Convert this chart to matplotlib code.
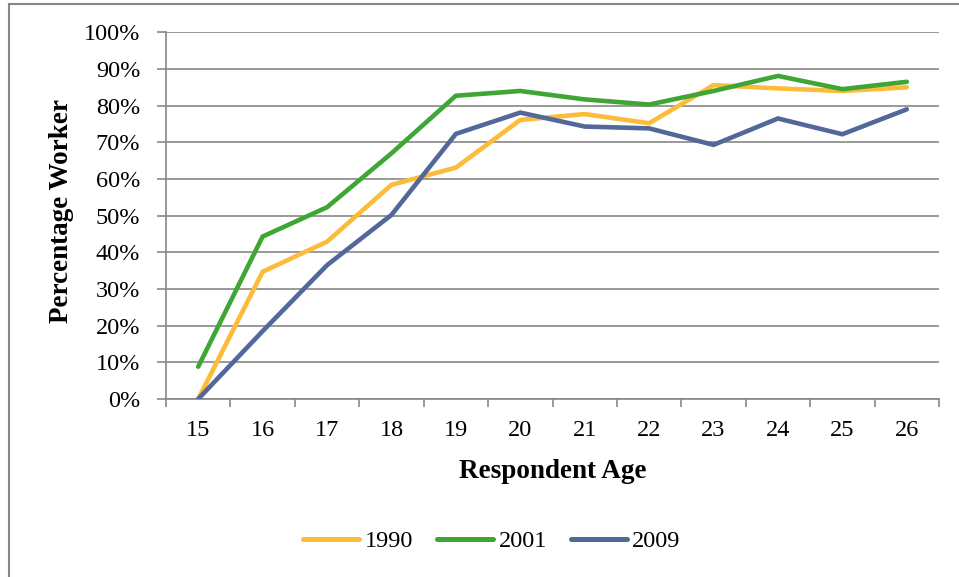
import matplotlib
matplotlib.use("Agg")
import matplotlib.pyplot as plt
from matplotlib.lines import Line2D
from matplotlib.ticker import FixedLocator, PercentFormatter

ages = ["15", "16", "17", "18", "19", "20", "21", "22", "23", "24", "25", "26"]
v1990 = [0.0, 34.7, 42.9, 58.4, 63.1, 76.1, 77.7, 75.2, 85.6, 84.7, 84.0, 85.0]
v2001 = [8.8, 44.3, 52.3, 67.0, 82.7, 84.0, 81.7, 80.3, 84.0, 88.1, 84.5, 86.5]
v2009 = [0.0, 18.5, 36.5, 50.2, 72.3, 78.1, 74.3, 73.8, 69.3, 76.5, 72.2, 79.0]
series_names = ["1990", "2001", "2009"]
y_ticks = [0, 10, 20, 30, 40, 50, 60, 70, 80, 90, 100]

colors = ["#FDBB3A", "#3FA535", "#52679A"]
grid_c = "#878787"
FONT = "Liberation Serif"
FS = 17.5
LFS = 19.5

plt.rcParams["font.family"] = [FONT, "DejaVu Serif"]

fig = plt.figure(figsize=(9.59, 5.77), dpi=100)
ax = fig.add_axes([166 / 959, 1 - 399 / 577, (939 - 166) / 959, (399 - 32.3) / 577])

x = list(range(len(ages)))
for vals, name, c in zip([v1990, v2001, v2009], series_names, colors):
    ax.plot(x, vals, color=c, lw=3.3, label=name, solid_capstyle="round",
            solid_joinstyle="miter", zorder=3)

ax.set_xlim(-0.5, len(ages) - 0.5)
ax.set_ylim(0, 100)
ax.yaxis.set_major_locator(FixedLocator(y_ticks))
ax.yaxis.set_major_formatter(PercentFormatter(decimals=0))
ax.grid(axis="y", color=grid_c, lw=1.2, zorder=1)
ax.set_axisbelow(True)

ax.set_xticks([i - 0.5 for i in range(len(ages) + 1)])
ax.set_xticklabels([])
ax.set_xticks(x, minor=True)
ax.set_xticklabels(ages, minor=True)
ax.tick_params(axis="x", which="major", direction="out", length=6, width=1.2, color=grid_c)
ax.tick_params(axis="x", which="minor", length=0, pad=15, labelsize=FS)
ax.tick_params(axis="y", direction="out", length=6.5, width=1.2, color=grid_c, pad=12, labelsize=FS)

for s in ["top", "right"]:
    ax.spines[s].set_visible(False)
for s in ["left", "bottom"]:
    ax.spines[s].set_color(grid_c)
    ax.spines[s].set_linewidth(1.2)

ax.set_xlabel("Respondent Age", fontsize=LFS, fontweight="bold", labelpad=13)
ax.set_ylabel("Percentage Worker", fontsize=LFS, fontweight="bold", labelpad=7)
ax.yaxis.label.set_y(0.513)

leg = fig.legend(loc="center", bbox_to_anchor=(492 / 959, 1 - 541 / 577), ncol=3,
                 frameon=False, fontsize=FS, handlelength=2.3, handletextpad=0.22,
                 columnspacing=1.0)
for h in leg.get_lines():
    h.set_linewidth(3.6)

# outer frame (only left and top edges visible in crop)
fig.add_artist(Line2D([9 / 959, 9 / 959], [0, 1 - 3.5 / 577], transform=fig.transFigure,
                      color=grid_c, lw=1.5))
fig.add_artist(Line2D([9 / 959, 1], [1 - 3.5 / 577, 1 - 3.5 / 577], transform=fig.transFigure,
                      color=grid_c, lw=1.5))

fig.savefig("out.png", dpi=100)
